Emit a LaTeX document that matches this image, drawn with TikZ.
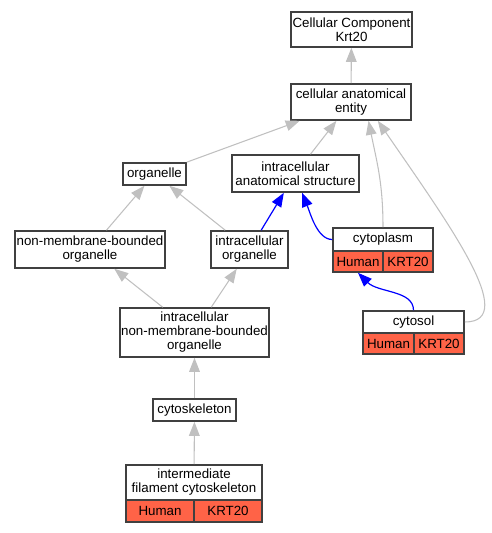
\documentclass[tikz,border=0pt]{standalone}
\usepackage{fontspec}
\setmainfont{Liberation Sans}
\usepackage{tikz}
\usetikzlibrary{arrows.meta,positioning}
\definecolor{genered}{HTML}{FF6347}
\definecolor{isagray}{HTML}{C0C0C0}
\definecolor{boxgray}{HTML}{404040}

\begin{document}
\begin{tikzpicture}
	[x=0.75pt,y=-0.75pt,
	term node/.style={shape=rectangle,draw=boxgray,line width=1.2pt,fill=white,inner sep=0pt,align=center,font=\fontsize{10}{10.5}\selectfont},
	gene node/.style={term node,fill=genered},
	is a/.style={color=isagray,line width=0.8pt,-{Triangle[length=10.5pt,width=8pt]}},
	part of/.style={color=blue,line width=0.9pt,-{Triangle[length=10.5pt,width=8pt]}}
	]
	\useasboundingbox (0,0) rectangle (492,533);

	\node [term node,minimum width=90.75pt,minimum height=26.25pt] (1) at (351.5,29.5) {Cellular Component\\Krt20};
	\node [term node,minimum width=90pt,minimum height=27pt] (2) at (351,102) {cellular anatomical\\entity};
	\node [term node,minimum width=47.25pt,minimum height=16.5pt] (3) at (154.5,174) {organelle};
	\node [term node,minimum width=95.25pt,minimum height=27.75pt] (4) at (295.5,173.5) {intracellular\\anatomical structure};
	\node [term node,minimum width=112.5pt,minimum height=27.75pt] (5) at (90,249.5) {non-membrane-bounded\\organelle};
	\node [term node,minimum width=57.75pt,minimum height=27.75pt] (6) at (249.5,249.5) {intracellular\\organelle};

	\node [term node,minimum width=75pt,minimum height=17.25pt] (7) at (383,239.5) {cytoplasm};
	\node [gene node,minimum width=37.5pt,minimum height=15.75pt] (8) at (358,261.5) {Human};
	\node [gene node,minimum width=37.5pt,minimum height=15.75pt] (9) at (408,261.5) {KRT20};

	\node [term node,minimum width=75.75pt,minimum height=16.5pt] (10) at (413.5,322) {cytosol};
	\node [gene node,minimum width=38.25pt,minimum height=15.75pt] (11) at (388.5,343.5) {Human};
	\node [gene node,minimum width=37.5pt,minimum height=15.75pt] (12) at (439,343.5) {KRT20};

	\node [term node,minimum width=111.75pt,minimum height=36.75pt] (13) at (194.5,332.5) {intracellular\\non-membrane-bounded\\organelle};
	\node [term node,minimum width=62.25pt,minimum height=16.5pt] (14) at (194.5,410) {cytoskeleton};

	\node [term node,minimum width=102pt,minimum height=26.25pt] (15) at (194,482.5) {intermediate\\filament cytoskeleton};
	\node [gene node,minimum width=51pt,minimum height=16.5pt] (16) at (160,511) {Human};
	\node [gene node,minimum width=51pt,minimum height=16.5pt] (17) at (228,511) {KRT20};

	\path[is a]
	(2) edge node {} (1)
	(3) edge node {} (2)
	(4) edge node {} (2)
	(5) edge node {} (3)
	(6) edge node {} (3)
	(13) edge node {} (5)
	(13) edge node {} (6)
	(14) edge node {} (13)
	(15) edge node {} (14)
	;
	\draw[is a] (7.north) .. controls +(0,-45) and +(8,40) .. (2.-47);
	\draw[is a] (10.east) .. controls +(56,0) and +(70,102) .. (2.-35);

	\path[part of]
	(6) edge node {} (4)
	;
	\draw[part of] (7.west) .. controls +(-15,0) and +(8,20) .. (4.-71);
	\draw[part of] (10.north) .. controls +(0,-20) and +(20,20) .. (8.south);

\end{tikzpicture}
\end{document}
